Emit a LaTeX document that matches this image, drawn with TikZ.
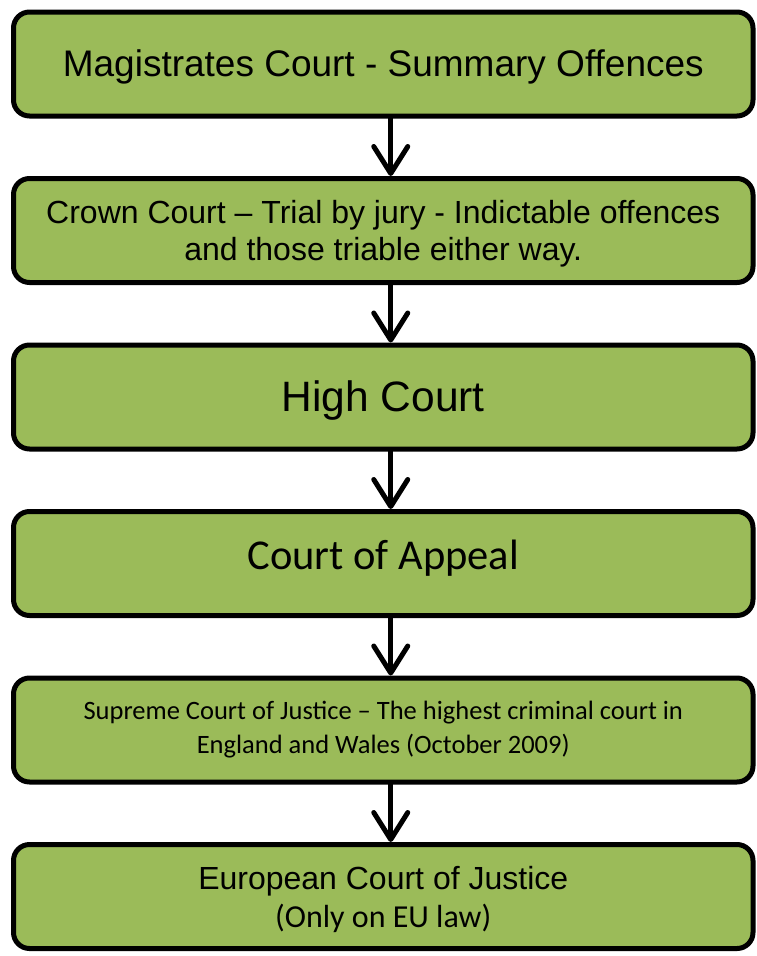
\documentclass[tikz,border=0pt]{standalone}
\usepackage{fontspec}
\setmainfont{Liberation Sans}
\newfontfamily\calib{Carlito}
\usetikzlibrary{arrows.meta}
\definecolor{courtgreen}{HTML}{9BBB59}
% shift a line of text vertically without changing its reported size
\newcommand\shiftline[2]{\raisebox{#1}[\height][\depth]{#2}}
\tikzset{
  court/.style={draw=black, line width=5pt, fill=courtgreen, rounded corners=16pt,
    minimum width=739.5pt, minimum height=104pt, inner sep=0pt, outer sep=0pt,
    align=center, text=black, anchor=north west},
  flow/.style={line width=5pt, line cap=round,
    -{Straight Barb[length=27pt,width=34pt,round]}},
}
\begin{document}
\begin{tikzpicture}[x=1pt,y=-1pt]
\useasboundingbox (0,0) rectangle (757,956);
\node[court, font=\fontsize{37}{44}\selectfont] (mag) at (13.5,12)
  {\shiftline{-3pt}{Magistrates Court - Summary Offences}};
\node[court, font=\fontsize{32}{37}\selectfont] (crown) at (13.5,178.5)
  {\shiftline{-3pt}{Crown Court – Trial by jury - Indictable offences}\\
   \shiftline{-3.5pt}{and those triable either way.}};
\node[court, font=\fontsize{42.5}{50}\selectfont] (high) at (13.5,345)
  {\shiftline{-3.5pt}{High Court}};
\node[court, font=\calib\fontsize{42.5}{50}\selectfont] (appeal) at (13.5,511.5)
  {\shiftline{5pt}{Court of Appeal}};
\node[court, font=\calib\fontsize{26.5}{34}\selectfont] (supreme) at (13.5,678)
  {Supreme Court of Justice – The highest criminal court in\\
   England and Wales (October 2009)};
\node[court, font=\fontsize{32}{38}\selectfont] (euro) at (13.5,844.5)
  {\shiftline{-3pt}{European Court of Justice}\\
   \shiftline{-2.5pt}{\calib (Only on EU law)}};
\foreach \a/\b in {mag/crown, crown/high, high/appeal, appeal/supreme, supreme/euro}
  \draw[flow] ([xshift=7.5pt,yshift=-2.5pt]\a.south) -- ([xshift=7.5pt,yshift=2.5pt]\b.north);
\end{tikzpicture}
\end{document}
